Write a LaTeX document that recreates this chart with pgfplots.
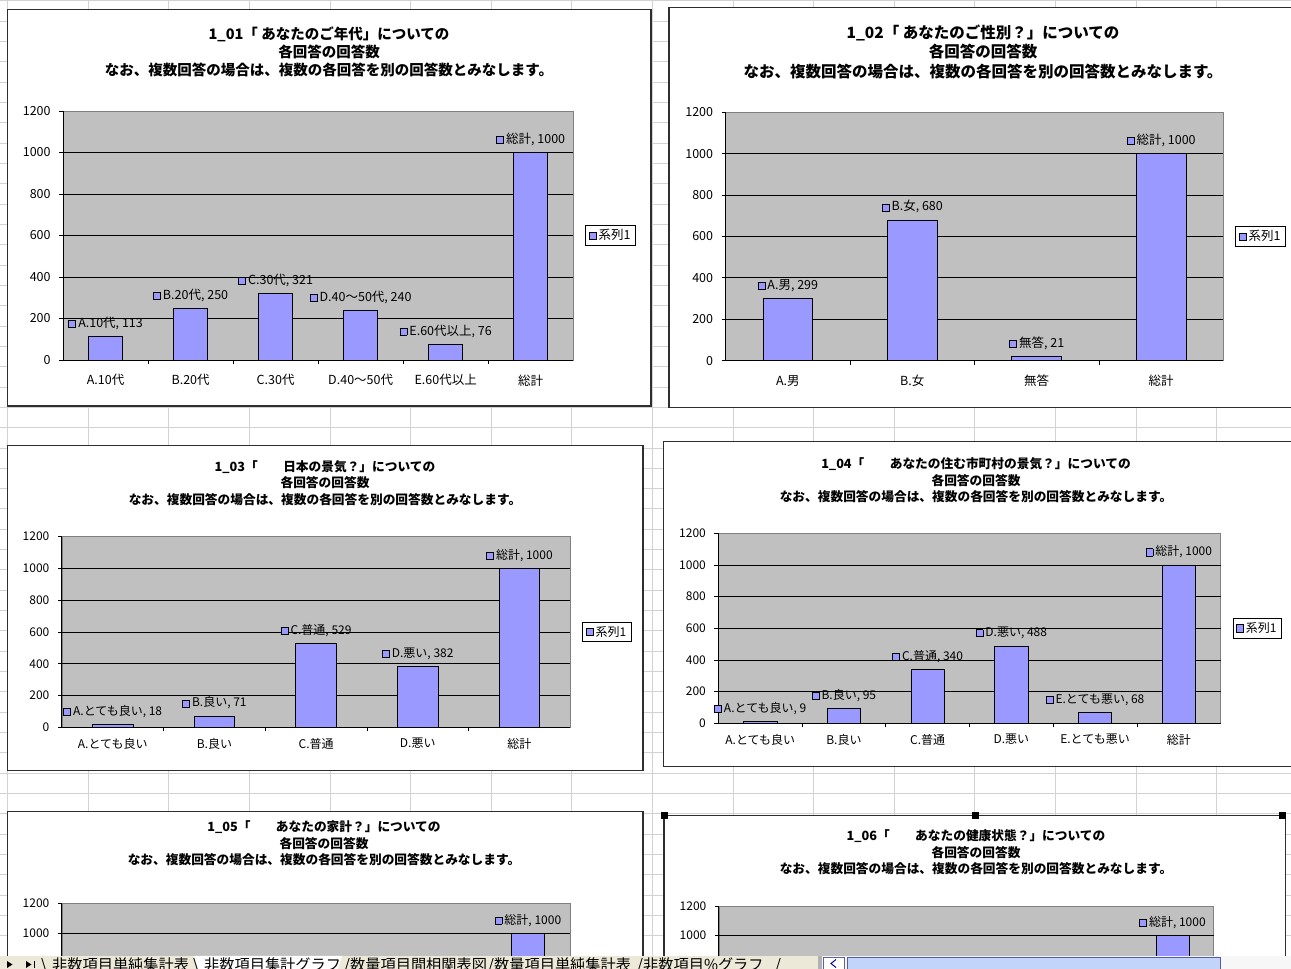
\documentclass[border=0pt]{standalone}
\usepackage{fontspec}
\setmainfont{Noto Sans CJK JP}
\usepackage{pgfplots}
\pgfplotsset{compat=1.18}
\pgfkeys{/pgf/number format/.cd, assume math mode=true, 1000 sep={}}

\definecolor{plotgray}{HTML}{C0C0C0}
\definecolor{barblue}{HTML}{9999FF}
\definecolor{cellline}{HTML}{D2D2D2}
\definecolor{frame}{HTML}{2E2E2E}
\definecolor{tabbg}{HTML}{ECE9D8}
\definecolor{scrollblue}{HTML}{C3D4FB}

\newcommand{\fs}[1]{\fontsize{#1}{#1}\selectfont}
% small legend key placed in front of every data label
\newcommand{\lkey}{{\setlength{\fboxsep}{0pt}\setlength{\fboxrule}{0.7pt}\raisebox{0.05ex}{\fbox{\textcolor{barblue}{\rule{6.4pt}{6.4pt}}}}}}

\pgfplotsset{
  xlschart/.style={
    scale only axis,
    ybar, bar width=0.4,
    ymin=0, ymax=1200, ytick={0,200,...,1200},
    extra y ticks={200,400,...,1000},
    extra y tick labels={},
    extra y tick style={grid=major, tick style={draw=none}},
    grid style={black, line width=0.9pt},
    axis background/.style={fill=plotgray, draw=black!50, line width=0.8pt},
    axis x line*=bottom, axis y line*=left,
    axis line style={-, black, line width=0.9pt},
    tick align=outside,
    major tick length=4pt, minor tick length=4pt,
    tick style={black, line width=0.8pt},
    major x tick style={draw=none},
    tick label style={font=\fs{#1}},
    yticklabel style={anchor=east, xshift=-5pt},
    xticklabel style={anchor=north},
    visualization depends on={value \thisrow{name} \as \catname},
    nodes near coords={\lkey\,\catname, \pgfmathprintnumber{\pgfplotspointmeta}},
    every node near coord/.append style={anchor=center, yshift=13pt, font=\fs{#1}, inner sep=0pt, text=black},
    legend entries={系列1},
    legend style={at={(1,0.5)}, anchor=west, xshift=12pt, draw=black, line width=0.8pt,
      fill=white, font=\fs{#1}, inner xsep=3pt, inner ysep=2pt},
  },
  xlsbars/.style={fill=barblue, draw=black, line width=0.8pt,
    legend image code/.code={\draw[fill=barblue, draw=black, line width=0.7pt] (0pt,-3.6pt) rectangle (7.2pt,3.6pt);}},
}

\begin{document}
\begin{tikzpicture}[x=1pt,y=1pt]
\useasboundingbox (0,0) rectangle (1291,969);
\fill[white] (0,0) rectangle (1291,969);
% worksheet cells
\foreach \k in {0,...,16} \draw[cellline, line width=0.9pt] ({7.7+80.6*\k},0) -- ({7.7+80.6*\k},969);
\foreach \k in {0,...,48} \draw[cellline, line width=0.9pt] (0,{969-0.7-20.33*\k}) -- (1291,{969-0.7-20.33*\k});

% chart frames
\filldraw[fill=white, draw=frame, line width=1.3pt] (7.6,563) rectangle (651,959.7);
\filldraw[fill=white, draw=frame, line width=1.3pt] (668.9,561.7) rectangle (1300,961.7);
\filldraw[fill=white, draw=frame, line width=1.3pt] (7.6,198.3) rectangle (643,523.3);
\filldraw[fill=white, draw=frame, line width=1.3pt] (663.2,202.3) rectangle (1300,527.3);
\filldraw[fill=white, draw=frame, line width=1.3pt] (7.6,-30) rectangle (643,157.3);
\filldraw[fill=white, draw=frame, line width=1.3pt] (664,-30) rectangle (1285.5,153.3);

% titles
\node[font=\bfseries\fontsize{14.5}{18}\selectfont, align=center, inner sep=0] at (329,917.3)
  {1\_01「 あなたのご年代」についての\\各回答の回答数\\なお、複数回答の場合は、複数の各回答を別の回答数とみなします。};
\node[font=\bfseries\fontsize{15.5}{19.3}\selectfont, align=center, inner sep=0] at (983,917.3)
  {1\_02「 あなたのご性別？」についての\\各回答の回答数\\なお、複数回答の場合は、複数の各回答を別の回答数とみなします。};
\node[font=\bfseries\fontsize{12.7}{16.4}\selectfont, align=center, inner sep=0] at (325,485.9)
  {1\_03「　　日本の景気？」についての\\各回答の回答数\\なお、複数回答の場合は、複数の各回答を別の回答数とみなします。};
\node[font=\bfseries\fontsize{12.7}{16.5}\selectfont, align=center, inner sep=0] at (976,488.5)
  {1\_04「　　あなたの住む市町村の景気？」についての\\各回答の回答数\\なお、複数回答の場合は、複数の各回答を別の回答数とみなします。};
\node[font=\bfseries\fontsize{12.7}{16.6}\selectfont, align=center, inner sep=0] at (324,125.7)
  {1\_05「　　あなたの家計？」についての\\各回答の回答数\\なお、複数回答の場合は、複数の各回答を別の回答数とみなします。};
\node[font=\bfseries\fontsize{12.7}{16.6}\selectfont, align=center, inner sep=0] at (976,116.5)
  {1\_06「　　あなたの健康状態？」についての\\各回答の回答数\\なお、複数回答の場合は、複数の各回答を別の回答数とみなします。};

% 1_01 age groups
\begin{axis}[xlschart=12.5, at={(63.1pt,609pt)}, anchor=south west, width=510.1pt, height=249pt,
  xmin=-0.5, xmax=5.5, xtick={0,...,5},
  xticklabels={A.10代,B.20代,C.30代,D.40～50代,E.60代以上,総計},
  xticklabel style={yshift=-7pt},
  minor xtick={0.5,1.5,...,4.5}]
\addplot[xlsbars] table {
x y name
0 113 A.10代
1 250 B.20代
2 321 C.30代
3 240 D.40～50代
4 76 E.60代以上
5 1000 総計
};
\end{axis}

% 1_02 gender
\begin{axis}[xlschart=12.5, at={(725.6pt,608.3pt)}, anchor=south west, width=497.8pt, height=248.4pt,
  xmin=-0.5, xmax=3.5, xtick={0,...,3},
  xticklabels={A.男,B.女,無答,総計},
  xticklabel style={yshift=-7pt},
  minor xtick={0.5,1.5,2.5}]
\addplot[xlsbars] table {
x y name
0 299 A.男
1 680 B.女
2 21 無答
3 1000 総計
};
\end{axis}

% 1_03 economy of Japan
\begin{axis}[xlschart=12, at={(61.9pt,241.7pt)}, anchor=south west, width=508.4pt, height=190.6pt,
  xmin=-0.5, xmax=4.5, xtick={0,...,4},
  xticklabels={A.とても良い,B.良い,C.普通,D.悪い,総計},
  xticklabel style={yshift=-3.5pt},
  minor xtick={0.5,1.5,...,3.5}]
\addplot[xlsbars] table {
x y name
0 18 A.とても良い
1 71 B.良い
2 529 C.普通
3 382 D.悪い
4 1000 総計
};
\end{axis}

% 1_04 local economy
\begin{axis}[xlschart=12, at={(718.4pt,245.7pt)}, anchor=south west, width=502.2pt, height=190pt,
  xmin=-0.5, xmax=5.5, xtick={0,...,5},
  xticklabels={A.とても良い,B.良い,C.普通,D.悪い,E.とても悪い,総計},
  xticklabel style={yshift=-3.5pt},
  minor xtick={0.5,1.5,...,4.5}]
\addplot[xlsbars] table {
x y name
0 9 A.とても良い
1 95 B.良い
2 340 C.普通
3 488 D.悪い
4 68 E.とても悪い
5 1000 総計
};
\end{axis}

% 1_05 household budget (lower part lies under the tab strip)
\begin{axis}[xlschart=12, at={(61.9pt,65.7pt)}, anchor=north west, width=508.4pt, height=180pt,
  xmin=-0.5, xmax=5.5, xtick=\empty, ytick={1000,1200},
  minor xtick={0.5,1.5,...,4.5}]
\addplot[xlsbars] table {
x y name
5 1000 総計
};
\end{axis}

% 1_06 health (lower part lies under the tab strip)
\begin{axis}[xlschart=12, at={(718.9pt,62.3pt)}, anchor=north west, width=494.8pt, height=172pt,
  xmin=-0.5, xmax=5.5, xtick=\empty, ytick={1000,1200},
  minor xtick={0.5,1.5,...,4.5}]
\addplot[xlsbars] table {
x y name
5 1000 総計
};
\end{axis}

% selection handles on the active chart
\foreach \hx in {664,975,1282.5} \fill[black] ({\hx-3.5},149.8) rectangle ({\hx+3.5},156.8);

% sheet tab strip
\fill[tabbg] (0,0) rectangle (820,13);
\fill[white] (194,13) -- (342,13) -- (338,0) -- (198,0) -- cycle;
\fill[black] (7,8) -- (12.5,4.5) -- (7,1) -- cycle;
\fill[black] (26,8) -- (31.5,4.5) -- (26,1) -- cycle;
\draw[black, line width=1pt] (34.5,1) -- (34.5,8);
\foreach \tx/\tabname in {41/\textbackslash, 52/非数項目単純集計表, 193/\textbackslash, 204/非数項目集計グラフ,
  344/{/}, 350/数量項目間相関表図, 488/{/}, 494/数量項目単純集計表, 637/{/}, 643/非数項目\%グラフ, 775/{/}}
  \node[anchor=base west, inner sep=0, font=\fs{15.2}] at (\tx,-1.8) {\tabname};
% horizontal scroll bar
\fill[gray!60] (818,0) rectangle (822,13);
\fill[white!94!gray] (822,0) rectangle (1291,13);
\filldraw[fill=white, draw=blue!25!gray] (823.5,0) rectangle (844.5,12);
\draw[blue!60!black, line width=1pt] (836,9.5) -- (831,5.5) -- (836,1.5);
\filldraw[fill=scrollblue, draw=blue!30!gray] (847,0) rectangle (1220,12);
\end{tikzpicture}
\end{document}
